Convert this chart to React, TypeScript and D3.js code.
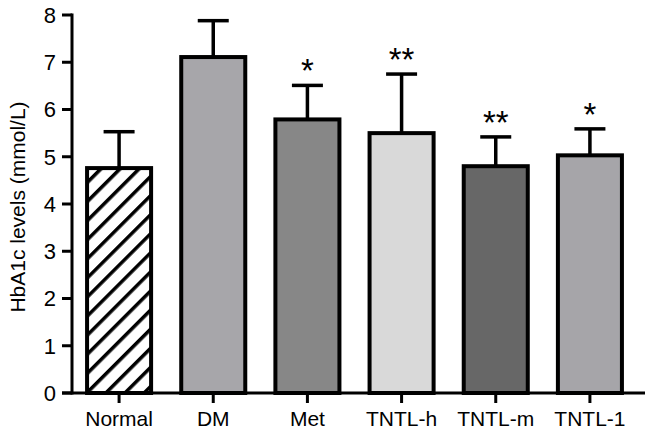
import React from "react";
import * as d3 from "d3";

const categories = ["Normal", "DM", "Met", "TNTL-h", "TNTL-m", "TNTL-1"];
const means = [4.76, 7.11, 5.79, 5.5, 4.8, 5.03];
const errors = [0.77, 0.77, 0.72, 1.25, 0.62, 0.56];
const stars = ["", "", "*", "**", "**", "*"];
const fills = ["hatch", "#a7a6aa", "#878787", "#d9d9d9", "#676767", "#a6a5a9"];
const yTicks = [0, 1, 2, 3, 4, 5, 6, 7, 8];

export default function App() {
  const W = 647, H = 434;
  const x = d3.scaleBand().domain(categories).range([72, 637]).paddingInner(0.32).paddingOuter(0.16);
  const y = d3.scaleLinear().domain([0, 8]).range([393, 15]);
  const font = "Arial, 'Liberation Sans', sans-serif";
  return (
    <svg width={W} height={H} style={{ position: "absolute", left: 0, top: 0, background: "#fff" }}>
      <defs>
        <pattern id="hatch" patternUnits="userSpaceOnUse" width={13.5} height={13.5} patternTransform="rotate(45)">
          <rect width={13.5} height={13.5} fill="#fff" />
          <line x1={0} y1={0} x2={0} y2={13.5} stroke="#000" strokeWidth={7} />
        </pattern>
      </defs>
      {categories.map((c, i) => {
        const cx = (x(c) as number) + x.bandwidth() / 2;
        const top = y(means[i]);
        const et = y(means[i] + errors[i]);
        return (
          <g key={c}>
            <line x1={cx} x2={cx} y1={top} y2={et} stroke="#000" strokeWidth={3.5} />
            <line x1={cx - 15.5} x2={cx + 15.5} y1={et} y2={et} stroke="#000" strokeWidth={3.5} />
            <rect x={x(c)} y={top} width={x.bandwidth()} height={y(0) - top}
              fill={fills[i] === "hatch" ? "url(#hatch)" : fills[i]} stroke="#000" strokeWidth={4} />
            {stars[i] && (
              <text x={cx} y={et - 3} textAnchor="middle" fontFamily={font} fontSize={33} fill="#000">{stars[i]}</text>
            )}
          </g>
        );
      })}
      <line x1={72} x2={72} y1={13.5} y2={394.5} stroke="#000" strokeWidth={3} />
      <line x1={62} x2={645} y1={393} y2={393} stroke="#000" strokeWidth={3} />
      {yTicks.map((t) => (
        <g key={t}>
          <line x1={62} x2={72} y1={y(t)} y2={y(t)} stroke="#000" strokeWidth={3} />
          <text x={56} y={y(t)} dy="0.36em" textAnchor="end" fontFamily={font} fontSize={22} fill="#000">{t}</text>
        </g>
      ))}
      {categories.map((c) => {
        const cx = (x(c) as number) + x.bandwidth() / 2;
        return (
          <g key={c}>
            <line x1={cx} x2={cx} y1={393} y2={403} stroke="#000" strokeWidth={3} />
            <text x={cx} y={425.5} textAnchor="middle" fontFamily={font} fontSize={21} fill="#000">{c}</text>
          </g>
        );
      })}
      <text transform="translate(25,207) rotate(-90)" textAnchor="middle" fontFamily={font} fontSize={21} fill="#000">HbA1c levels (mmol/L)</text>
    </svg>
  );
}
